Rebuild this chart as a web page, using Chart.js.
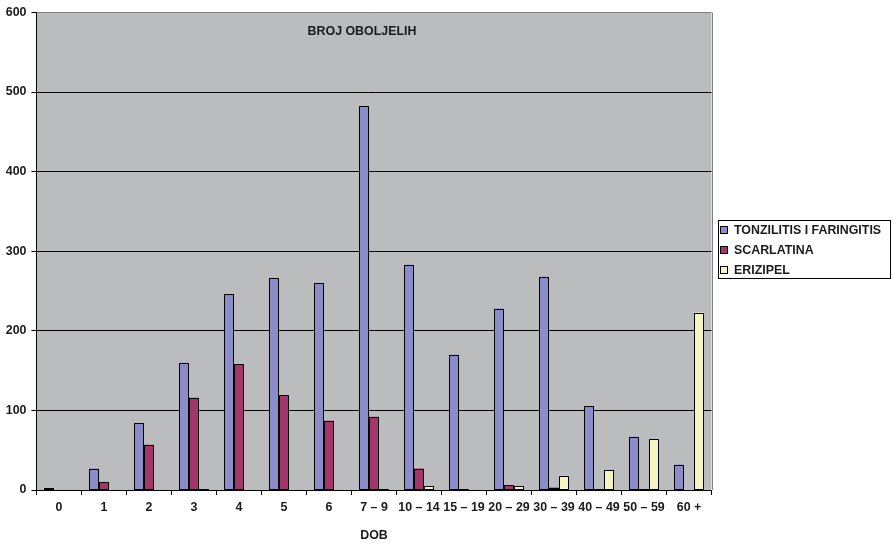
<!DOCTYPE html>
<html>
<head>
<meta charset="utf-8">
<script src="https://cdn.jsdelivr.net/npm/chart.js@4"></script>
<style>
  html, body { margin: 0; padding: 0; background: #fff; }
  #wrap { width: 893px; height: 551px; }
</style>
</head>
<body>
<div id="wrap"><canvas id="chart" width="893" height="551"></canvas></div>
<script>
const categories = ['0', '1', '2', '3', '4', '5', '6', '7 – 9', '10 – 14', '15 – 19', '20 – 29', '30 – 39', '40 – 49', '50 – 59', '60 +'];
const tonzilitis = [2, 27, 84, 160, 246, 266, 260, 482, 283, 170, 228, 268, 105, 67, 32];
const scarlatina = [0, 10, 57, 116, 158, 119, 87, 92, 27, 1, 6, 3, 1, 1, 0];
const erizipel = [0, 0, 0, 1, 0, 0, 0, 1, 5, 0, 5, 18, 25, 64, 223];
const seriesNames = ['TONZILITIS I FARINGITIS', 'SCARLATINA', 'ERIZIPEL'];
const seriesColors = ['#8b8cc8', '#a3366b', '#f5f5c4'];

const family = '"Liberation Sans", Arial, sans-serif';
const fontSize = 12.4;
const tickFont = { family: family, size: fontSize, weight: 'bold' };

// gray plot background, crisp bar outlines, title inside the plot, boxed legend
const extras = {
    id: 'extras',
    beforeDraw(chart) {
        const a = chart.chartArea;
        const ctx = chart.ctx;
        ctx.save();
        ctx.fillStyle = '#bbbcbe';
        ctx.fillRect(a.left, a.top, a.right - a.left, a.bottom - a.top);
        ctx.strokeStyle = '#808080';
        ctx.lineWidth = 1;
        ctx.beginPath();
        ctx.moveTo(Math.round(a.right) + 0.5, a.top);
        ctx.lineTo(Math.round(a.right) + 0.5, a.bottom);
        ctx.stroke();
        ctx.restore();
    },
    afterDatasetsDraw(chart) {
        const ctx = chart.ctx;
        ctx.save();
        ctx.strokeStyle = '#000';
        ctx.lineWidth = 1;
        chart.data.datasets.forEach((ds, di) => {
            chart.getDatasetMeta(di).data.forEach((bar, i) => {
                if (!ds.data[i]) return;
                const p = bar.getProps(['x', 'y', 'base', 'width'], true);
                const l = Math.round(p.x - p.width / 2) + 0.5;
                const r = Math.round(p.x + p.width / 2) - 0.5;
                const t = Math.round(p.y) + 0.5;
                const b = Math.round(p.base) - 0.5;
                ctx.fillStyle = seriesColors[di];
                ctx.fillRect(l, Math.min(t, b), r - l, Math.abs(b - t));
                ctx.strokeRect(l, Math.min(t, b), r - l, Math.max(Math.abs(b - t), 0.5));
            });
        });
        ctx.restore();
    },
    afterDraw(chart) {
        const ctx = chart.ctx;
        ctx.save();
        ctx.font = 'bold ' + fontSize + 'px ' + family;
        ctx.fillStyle = '#1a1a1a';
        ctx.textAlign = 'center';
        ctx.textBaseline = 'middle';
        ctx.fillText('BROJ OBOLJELIH', 362, 32);

        // legend
        ctx.strokeStyle = '#000';
        ctx.lineWidth = 1;
        ctx.strokeRect(718.5, 220.5, 172, 58);
        ctx.textAlign = 'left';
        seriesNames.forEach((name, i) => {
            const y = 230 + i * 20;
            ctx.fillStyle = seriesColors[i];
            ctx.fillRect(720.5, y - 3.5, 7, 7);
            ctx.strokeRect(720.5, y - 3.5, 7, 7);
            ctx.fillStyle = '#1a1a1a';
            ctx.fillText(name, 734, y + 0.5);
        });
        ctx.restore();
    }
};

new Chart(document.getElementById('chart'), {
    type: 'bar',
    data: {
        labels: categories,
        datasets: [
            { label: seriesNames[0], data: tonzilitis, backgroundColor: seriesColors[0] },
            { label: seriesNames[1], data: scarlatina, backgroundColor: seriesColors[1] },
            { label: seriesNames[2], data: erizipel, backgroundColor: seriesColors[2] }
        ].map(d => Object.assign(d, {
            borderWidth: 0,
            barPercentage: 1,
            categoryPercentage: 30 / 45
        }))
    },
    options: {
        responsive: false,
        animation: false,
        events: [],
        layout: { padding: { top: 10, right: 181.5, bottom: 0, left: 0 } },
        plugins: {
            legend: { display: false },
            tooltip: { enabled: false }
        },
        scales: {
            x: {
                afterFit(scale) { scale.height = 61; },
                grid: {
                    drawOnChartArea: false,
                    color: '#000',
                    tickLength: 5,
                    offset: true
                },
                border: { color: '#000' },
                ticks: {
                    autoSkip: false,
                    maxRotation: 0,
                    padding: 5,
                    color: '#1a1a1a',
                    font: tickFont
                },
                title: {
                    display: true,
                    text: 'DOB',
                    color: '#1a1a1a',
                    padding: { top: 10, bottom: 8 },
                    font: tickFont
                }
            },
            y: {
                min: 0,
                max: 600,
                afterFit(scale) { scale.width = 36.5; },
                grid: {
                    color: ctx => ctx.tick && ctx.tick.value === 600 ? '#808080' : '#000',
                    tickColor: '#000',
                    tickLength: 5
                },
                border: { color: '#000' },
                ticks: {
                    stepSize: 100,
                    padding: 5,
                    color: '#1a1a1a',
                    font: tickFont
                }
            }
        }
    },
    plugins: [extras]
});
</script>
</body>
</html>
